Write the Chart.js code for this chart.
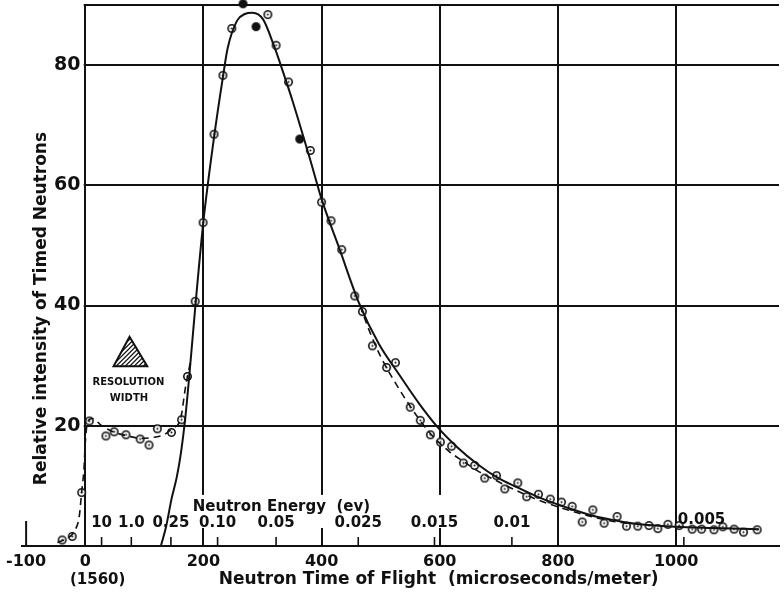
<!DOCTYPE html>
<html>
<head>
<meta charset="utf-8">
<script src="https://cdn.jsdelivr.net/npm/chart.js@4.4.1/dist/chart.umd.min.js"></script>
<style>
  html, body { margin: 0; padding: 0; background: #fff; }
  #wrap { width: 784px; height: 595px; }
</style>
</head>
<body>
<div id="wrap"><canvas id="tof" width="784" height="595"></canvas></div>
<script>
// time of flight in microseconds/meter, intensity in relative units
const openX = [-39, -22, -6, 7, 35, 49, 69, 93, 108, 122, 146, 163, 173, 186, 199.5, 218, 233, 248, 309, 323,
  344, 381, 400, 416, 434, 456, 469, 486, 510, 525, 550, 567, 584, 601, 620, 640, 659, 676, 696, 710,
  732, 747, 767, 787, 806, 824, 841, 859, 878, 900, 916, 935, 954, 969, 986, 1005, 1027, 1043, 1064, 1079,
  1098, 1114, 1137];
const openY = [1.0, 1.6, 8.9, 20.8, 18.3, 19.0, 18.5, 17.8, 16.8, 19.5, 18.9, 21.0, 28.2, 40.7, 53.8, 68.5, 78.3, 86.1, 88.4, 83.3,
  77.2, 65.8, 57.2, 54.1, 49.3, 41.6, 39.0, 33.3, 29.7, 30.5, 23.1, 20.9, 18.5, 17.3, 16.6, 13.8, 13.4, 11.3, 11.7, 9.5,
  10.5, 8.2, 8.6, 7.8, 7.3, 6.6, 4.0, 6.0, 3.8, 4.9, 3.3, 3.3, 3.4, 2.9, 3.6, 3.4, 2.8, 2.8, 2.7, 3.2,
  2.8, 2.3, 2.7];
const solidX = [267, 289, 363];
const solidY = [90.2, 86.4, 67.7];

// calculated curve (solid)
const calcX = [128, 137, 146, 155, 162, 169, 176, 187, 200, 218, 233, 241, 257, 270, 283, 301, 318, 335, 351, 380,
  400, 430, 463, 497, 530, 565, 597, 630, 664, 697, 730, 763, 797, 830, 864, 900, 931, 965, 998, 1060, 1140];
const calcY = [0, 3.3, 7.8, 11.5, 15.5, 21, 28.2, 40.6, 54, 68, 78, 82.8, 87.4, 88.5, 88.7, 87.6, 83.6, 78.8, 74, 64.5,
  57.7, 49.5, 40.5, 33.6, 28.7, 23.7, 19.7, 16.4, 13.6, 11.4, 9.8, 8.3, 7.0, 5.9, 4.9, 4.2, 3.7, 3.4, 3.2, 3.0, 2.8];

// observed curve (dashed), two stretches
const obsLowX = [-47, -30, -18, -10, -6, -2, 0, 4, 12, 28, 50, 72, 95, 117, 135, 148, 161, 170, 178];
const obsLowY = [0.6, 1.3, 2.5, 5, 9, 13, 17, 20.6, 21.2, 20, 18.9, 18.3, 17.9, 18.1, 18.6, 19.6, 21, 26.6, 30.6];
const obsTailX = [465, 480, 500, 530, 560, 585, 615, 641, 664, 697, 730, 763, 797, 830, 864, 900, 925];
const obsTailY = [40, 36, 31.5, 26.3, 21.8, 18.6, 15.8, 14.0, 12.5, 10.8, 9.2, 7.8, 6.6, 5.6, 4.7, 4.0, 3.7];

const xTicks = [-100, 0, 200, 400, 600, 800, 1000];
const yGrid = [0, 20, 40, 60, 80, 90];
const yLabelled = [20, 40, 60, 80];

// neutron energy scale (ev) and where it falls on the time axis
const energyLabels = ["10", "1.0", "0.25", "0.10", "0.05", "0.025", "0.015", "0.01", "0.005"];
const energyAt = [27.7, 78, 145, 224, 323, 462, 591, 722, 1013];

const ink = "#111";
const face = '"DejaVu Sans", sans-serif';
const pairs = (xs, ys) => xs.map((x, i) => ({ x: x, y: ys[i] }));

// open circle with a centre dot, or a filled one
function ring(filled) {
  const c = document.createElement("canvas");
  c.width = c.height = 11;
  const g = c.getContext("2d");
  g.beginPath();
  g.arc(5.5, 5.5, 3.7, 0, Math.PI * 2);
  g.fillStyle = filled ? ink : "#fff";
  g.fill();
  g.lineWidth = 1.6;
  g.strokeStyle = ink;
  g.stroke();
  if (!filled) {
    g.beginPath();
    g.arc(5.5, 5.5, 1, 0, Math.PI * 2);
    g.fillStyle = ink;
    g.fill();
  }
  return c;
}

const extras = {
  id: "extras",
  beforeDatasetsDraw(chart) {
    const { ctx, chartArea: a, scales: { x, y } } = chart;
    ctx.save();
    ctx.fillStyle = "#fff";
    // no grid left of the frame, only the base line
    const x0 = x.getPixelForValue(0) - 1.5;
    ctx.fillRect(a.left - 2, a.top - 3, x0 - a.left + 2, a.bottom - 1.5 - a.top + 3);
    // grid is broken where the energy captions sit
    const t = y.getPixelForValue(8.5), b = y.getPixelForValue(3);
    const l = x.getPixelForValue(150), r = x.getPixelForValue(620);
    ctx.fillRect(l, t, r - l, b - t);
    ctx.restore();
  },
  afterDraw(chart) {
    const { ctx, chartArea: a, scales: { x, y } } = chart;
    const line = (x1, y1, x2, y2) => {
      ctx.beginPath();
      ctx.moveTo(x1, y1);
      ctx.lineTo(x2, y2);
      ctx.stroke();
    };
    ctx.save();
    ctx.strokeStyle = ink;
    ctx.fillStyle = ink;

    // short mark at -100
    ctx.lineWidth = 2;
    const m = x.getPixelForValue(-100);
    line(m, a.bottom, m, a.bottom - 25);

    // energy scale along the base; the last caption sits above the tail points
    ctx.lineWidth = 1.6;
    ctx.font = "bold 15px " + face;
    ctx.textBaseline = "alphabetic";
    energyAt.forEach((t, i) => {
      const px = x.getPixelForValue(t);
      line(px, a.bottom, px, a.bottom - 9);
      const last = i === energyAt.length - 1;
      ctx.textAlign = last ? "left" : "center";
      ctx.fillText(energyLabels[i], last ? px - 6 : px, a.bottom - (last ? 22 : 19));
    });
    ctx.textAlign = "left";
    ctx.fillText("Neutron Energy  (ev)", x.getPixelForValue(182), a.bottom - 35);

    // axis titles
    ctx.font = "bold 17px " + face;
    ctx.textAlign = "center";
    ctx.fillText("Neutron Time of Flight  (microseconds/meter)", x.getPixelForValue(598), a.bottom + 38);
    ctx.font = "bold 15px " + face;
    ctx.fillText("(1560)", x.getPixelForValue(21), a.bottom + 38);

    ctx.save();
    ctx.font = "bold 17px " + face;
    ctx.translate(x.getPixelForValue(-73), y.getPixelForValue(39.5));
    ctx.rotate(-Math.PI / 2);
    ctx.textBaseline = "middle";
    ctx.fillText("Relative intensity of Timed Neutrons", 0, 0);
    ctx.restore();

    // resolution width marker
    const ax = x.getPixelForValue(75), ay = y.getPixelForValue(34.8);
    const bl = x.getPixelForValue(48), br = x.getPixelForValue(105), by = y.getPixelForValue(29.9);
    ctx.save();
    ctx.beginPath();
    ctx.moveTo(ax, ay);
    ctx.lineTo(br, by);
    ctx.lineTo(bl, by);
    ctx.closePath();
    ctx.lineWidth = 2;
    ctx.stroke();
    ctx.clip();
    ctx.lineWidth = 1.3;
    for (let k = bl - 40; k < br + 10; k += 4.5) line(k, by + 2, k + 34, by - 32);
    ctx.restore();
    ctx.font = "bold 10px " + face;
    ctx.textAlign = "center";
    ctx.fillText("RESOLUTION", x.getPixelForValue(73), y.getPixelForValue(26.8));
    ctx.fillText("WIDTH", x.getPixelForValue(74), y.getPixelForValue(24.1));
    ctx.restore();
  }
};

const curve = (data, dash, width) => ({
  data: data,
  showLine: true,
  borderColor: ink,
  borderWidth: width,
  borderDash: dash,
  pointRadius: 0,
  cubicInterpolationMode: "monotone",
  clip: false
});

new Chart(document.getElementById("tof"), {
  type: "scatter",
  data: {
    datasets: [
      curve(pairs(calcX, calcY), [], 2),
      curve(pairs(obsLowX, obsLowY), [7, 5], 1.6),
      curve(pairs(obsTailX, obsTailY), [7, 5], 1.6),
      { data: pairs(openX, openY), pointStyle: ring(false), pointRadius: 4, clip: false },
      { data: pairs(solidX, solidY), pointStyle: ring(true), pointRadius: 4, clip: false }
    ]
  },
  options: {
    responsive: false,
    animation: false,
    devicePixelRatio: 1,
    layout: { padding: { top: 5, left: 20, right: 0, bottom: 0 } },
    plugins: { legend: { display: false }, tooltip: { enabled: false } },
    scales: {
      x: {
        type: "linear",
        position: "bottom",
        min: -106.5,
        max: 1174,
        afterBuildTicks: (s) => { s.ticks = xTicks.map((v) => ({ value: v })); },
        afterFit: (s) => { s.height = 49; },
        grid: {
          color: (c) => (c.tick && c.tick.value === -100 ? "rgba(0,0,0,0)" : ink),
          lineWidth: 2,
          drawTicks: false
        },
        border: { color: ink, width: 2 },
        ticks: {
          autoSkip: false,
          maxRotation: 0,
          padding: 6,
          color: ink,
          font: { family: face, size: 16, weight: "bold" },
          callback: (v) => String(v)
        }
      },
      y: {
        type: "linear",
        // labels hang just left of the frame line at x = 0
        position: { x: -8 },
        min: 0,
        max: 90,
        afterBuildTicks: (s) => { s.ticks = yGrid.map((v) => ({ value: v })); },
        grid: { color: ink, lineWidth: 2, drawTicks: false },
        border: { display: false },
        ticks: {
          z: 1,
          padding: 0,
          color: ink,
          font: { family: face, size: 19, weight: "bold", lineHeight: 0.5 },
          callback: (v) => (yLabelled.includes(v) ? String(v) : "")
        }
      }
    }
  },
  plugins: [extras]
});
</script>
</body>
</html>
